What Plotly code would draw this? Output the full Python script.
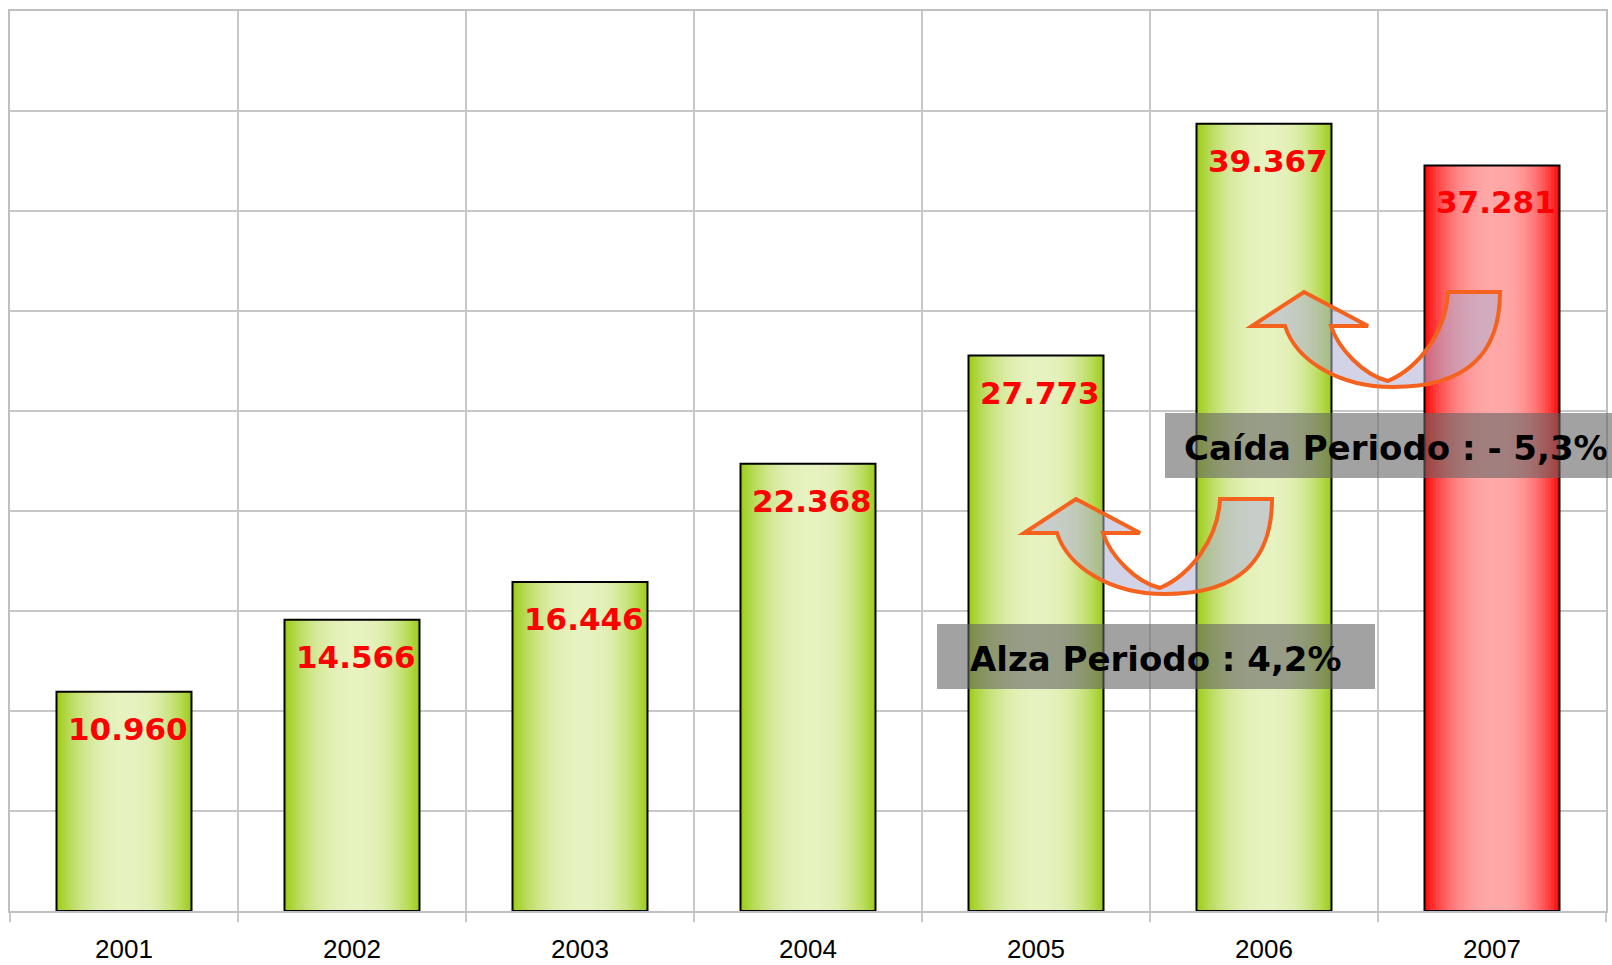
import plotly.graph_objects as go

# ---------------- data ----------------
years = ["2001", "2002", "2003", "2004", "2005", "2006", "2007"]
values = [10960, 14566, 16446, 22368, 27773, 39367, 37281]
bar_style = ["green", "green", "green", "green", "green", "green", "red"]
alza_text = "Alza Periodo : 4,2%"
caida_text = "Caída Periodo : - 5,3%"

# ---------------- layout constants ----------------
W, H = 1612, 965
ML, MR, MT, MB = 10, 6, 11, 54
PW, PH = W - ML - MR, H - MT - MB

def px(x):
    return (x - ML) / PW

def py(y):
    return (H - MB - y) / PH

palettes = {
    "green": ((155, 204, 22), (230, 242, 192)),
    "red": ((255, 5, 5), (255, 168, 168)),
}

def mix(pal, L):
    d, l = pal
    return "rgb(%d,%d,%d)" % tuple(round(d[j] + (l[j] - d[j]) * L) for j in range(3))

def shade(t, c=0.53):
    d = (c - t) / c if t < c else (t - c) / (1 - c)
    return max(0.0, 1 - d ** 2.4)

fig = go.Figure()

BAR_W = 0.592
N = 48
w = BAR_W / N
for i in range(N):
    t = (i + 0.5) / N
    L = shade(t)
    cols = [mix(palettes[s], L) for s in bar_style]
    off = -BAR_W / 2 + i * w
    width = min(w * 1.8, BAR_W / 2 - off)
    fig.add_bar(x=years, y=values, offset=off, width=width,
                marker=dict(color=cols, line=dict(width=0)),
                hoverinfo="skip", showlegend=False)

# outline
fig.add_bar(x=years, y=values, offset=-BAR_W / 2, width=BAR_W,
            marker=dict(color="rgba(0,0,0,0)", line=dict(color="black", width=2)),
            hoverinfo="skip", showlegend=False)

# value labels
for idx, v in enumerate(values):
    fig.add_annotation(x=idx, y=v, xref="x", yref="y", text=f"{v:,}".replace(",", "."),
                       showarrow=False, yanchor="top", xanchor="center", yshift=-17, xshift=4,
                       font=dict(family="DejaVu Sans", size=31, color="#ff0000", weight="bold"))

# curved arrows (U-turn style)
def arrow_path(tx, ty):
    def p(dx, dy):
        return "%.5f,%.5f" % (px(tx + dx), py(ty + dy))
    return ("M" + p(0, 0) + " L" + p(64, 34) + " L" + p(27, 34) +
            " C" + p(34, 56) + " " + p(59, 83) + " " + p(84, 89) +
            " C" + p(114, 76) + " " + p(142, 41) + " " + p(144, 0) +
            " L" + p(196, 0) +
            " C" + p(196, 60) + " " + p(165, 95) + " " + p(89, 95) +
            " C" + p(34, 95) + " " + p(-8, 68) + " " + p(-19, 34) +
            " L" + p(-52, 34) + " Z")

for tip in [(1076, 499), (1304, 292)]:
    fig.add_shape(type="path", xref="paper", yref="paper", path=arrow_path(*tip),
                  fillcolor="rgba(175,175,212,0.55)",
                  line=dict(color="rgb(245,98,30)", width=4), layer="above")

# gray text boxes
boxes = [((937, 624, 1375, 689), alza_text), ((1165, 413, 1627, 478), caida_text)]
for (x0, y0, x1, y1), txt in boxes:
    fig.add_shape(type="rect", xref="paper", yref="paper",
                  x0=px(x0), x1=px(x1), y0=py(y1), y1=py(y0),
                  fillcolor="rgba(100,100,100,0.6)", line=dict(width=0), layer="above")
    fig.add_annotation(xref="paper", yref="paper", x=px((x0 + x1) / 2), y=py((y0 + y1) / 2 + 2),
                       text=txt, showarrow=False, xanchor="center", yanchor="middle",
                       font=dict(family="DejaVu Sans", size=34, color="black", weight="bold"))

grid = "#c8c8c8"
fig.update_layout(
    width=W, height=H,
    margin=dict(l=ML, r=MR, t=MT, b=MB, pad=0),
    paper_bgcolor="white", plot_bgcolor="white",
    barmode="overlay", showlegend=False,
    xaxis=dict(type="category", range=[-0.5, 6.5], tickson="boundaries",
               showgrid=True, gridcolor=grid, gridwidth=2,
               ticks="outside", ticklen=9, tickwidth=2, tickcolor=grid,
               showline=True, linecolor="#c0c0c0", linewidth=2, mirror=True,
               tickfont=dict(family="Liberation Sans", size=26, color="black"),
               ticklabelstandoff=14, automargin=False),
    yaxis=dict(range=[0, 45000], dtick=5000, showgrid=True, gridcolor=grid, gridwidth=2,
               showticklabels=False, zeroline=False, ticks="",
               showline=True, linecolor="#c0c0c0", linewidth=2, mirror=True,
               automargin=False),
)

fig.write_html("out.html", config={"displayModeBar": False},
               post_script="document.body.style.margin='0';document.body.style.overflow='hidden';")
